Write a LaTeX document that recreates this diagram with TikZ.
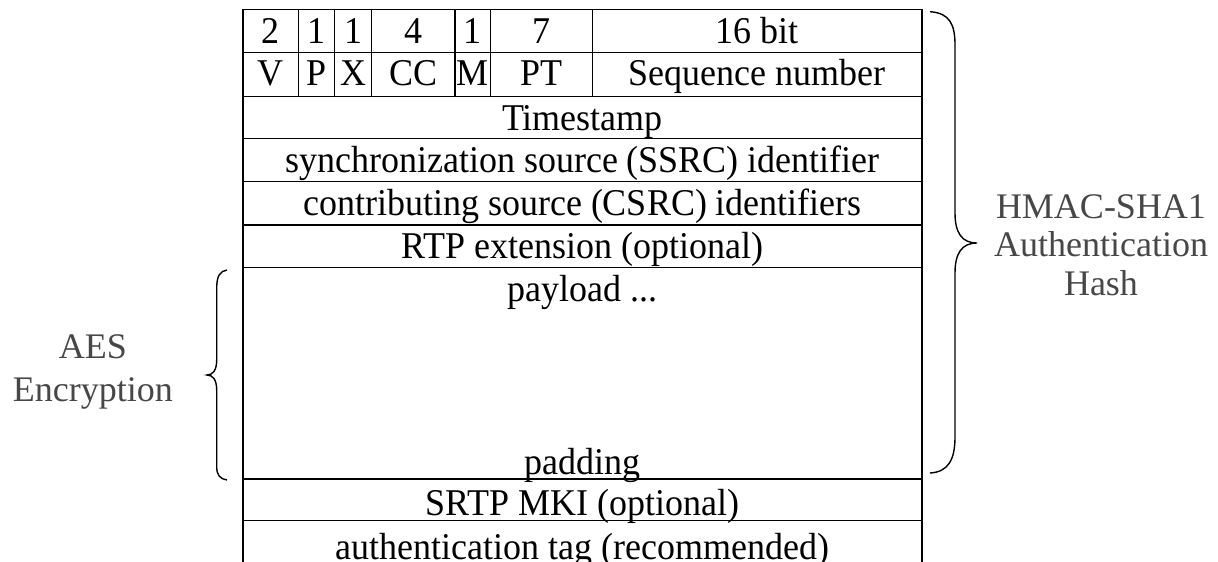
\documentclass[tikz,border=0pt]{standalone}
\usepackage{fontspec}
\setmainfont{Liberation Serif}
\newfontfamily\cellfont[FakeStretch=0.952]{Liberation Serif}
\begin{document}
\begin{tikzpicture}[x=1pt,y=-1pt,
  grid/.style={line width=1.4pt,black},
  cell/.style={anchor=base,inner sep=0pt,font=\cellfont\fontsize{37.8}{42}\selectfont},
  side/.style={anchor=base,inner sep=0pt,text=black!72,font=\fontsize{36}{40}\selectfont},
  bracepath/.style={line width=1.4pt,black}]
\useasboundingbox (0,0) rectangle (1218,562);

% horizontal rules of the packet layout
\foreach \y in {9.3,52.7,96.7,138.3,181.7,225,267.7,479,520.7}
  \draw[grid] (243,\y) -- (922,\y);
% outer sides (open at the bottom)
\draw[grid] (243,9.3) -- (243,562);
\draw[grid] (922,9.3) -- (922,562);
% bit-field separators of the first two rows
\foreach \x in {298.3,334.3,371.7,455,490.7,592.3}
  \draw[grid] (\x,9.3) -- (\x,96.7);

% bit widths
\node[cell] (w2)  at (270.7,43) {2};
\node[cell] (w1a) at (316.3,43) {1};
\node[cell] (w1b) at (353,43) {1};
\node[cell] (w4)  at (413.3,43) {4};
\node[cell] (w1c) at (472.8,43) {1};
\node[cell] (w7)  at (541.5,43) {7};
\node[cell] (w16) at (757.2,43) {16 bit};
% field names
\node[cell] (fV)  at (270.7,85.5) {V};
\node[cell] (fP)  at (316.3,85.5) {P};
\node[cell] (fX)  at (353,85.5) {X};
\node[cell] (fCC) at (413.3,85.5) {CC};
\node[cell] (fM)  at (472.8,85.5) {M};
\node[cell] (fPT) at (541.5,85.5) {PT};
\node[cell] (fSN) at (757.2,85.5) {Sequence number};
% full-width rows
\node[cell] (ts)   at (582.5,130.5) {Timestamp};
\node[cell] (ssrc) at (582.5,172.7) {synchronization source (SSRC) identifier};
\node[cell] (csrc) at (582.5,215.7) {contributing source (CSRC) identifiers};
\node[cell] (ext)  at (582.5,258.3) {RTP extension (optional)};
\node[cell] (pay)  at (582.5,301.7) {payload ...};
\node[cell] (pad)  at (582.5,474) {padding};
\node[cell] (mki)  at (582.5,515) {SRTP MKI (optional)};
\node[cell] (tag)  at (582.5,559) {authentication tag (recommended)};

% brace over the authenticated portion
\coordinate (rt) at (930,11.7);
\coordinate (rtip) at (977,243);
\coordinate (rb) at (930,473);
\draw[bracepath] (rt) .. controls (950,13) and (955,25) .. (955,45)
  -- (955,213) .. controls (955,233) and (962,243) .. (rtip)
  .. controls (962,243) and (955,253) .. (955,273)
  -- (955,437) .. controls (955,460) and (948,472) .. (rb);
\node[side] (hmac1) at (1101,218.3) {HMAC-SHA1};
\node[side] (hmac2) at (1101,256.7) {Authentication};
\node[side] (hmac3) at (1101,295) {Hash};

% brace over the encrypted portion
\coordinate (lt) at (227,270);
\coordinate (ltip) at (207,375);
\coordinate (lb) at (227,480);
\draw[bracepath] (lt) .. controls (220,271) and (216.7,276) .. (216.7,288)
  -- (216.7,360) .. controls (216.7,370) and (213,375) .. (ltip)
  .. controls (213,375) and (216.7,380) .. (216.7,390)
  -- (216.7,467) .. controls (216.7,475) and (220,479) .. (lb);
\node[side] (aes1) at (92.8,358.3) {AES};
\node[side] (aes2) at (92.8,401.7) {Encryption};
\end{tikzpicture}
\end{document}
